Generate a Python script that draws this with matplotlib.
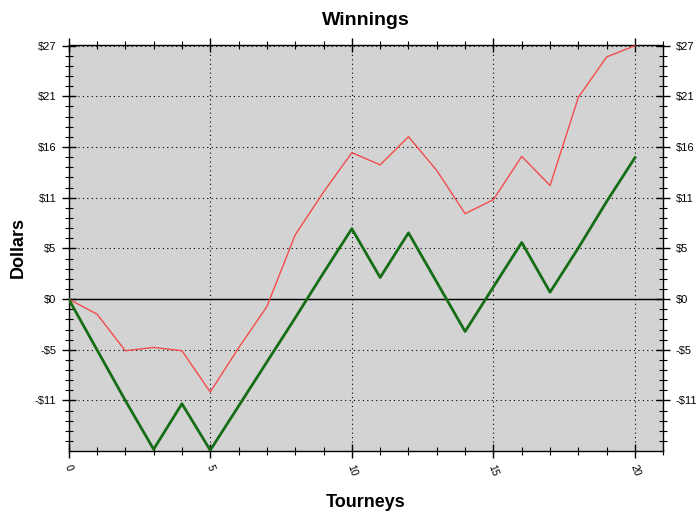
import numpy as np
import matplotlib
matplotlib.use('Agg')
import matplotlib.pyplot as plt
from matplotlib.ticker import MultipleLocator, FixedLocator

plt.rcParams['font.family'] = ['Liberation Sans', 'DejaVu Sans']

# Data
tourneys = list(range(21))
cumulative = [0, -1.6, -5.5, -5.15, -5.5, -9.9, -5.2, -0.8, 6.85, 11.4, 15.6,
              14.3, 17.3, 13.7, 9.1, 10.6, 15.2, 12.1, 21.5, 25.8, 27.0]
winnings = [0, -5.4, -10.8, -16.0, -11.15, -16.1, -11.4, -6.7, -2.0, 2.8, 7.5,
            2.3, 7.06, 1.8, -3.45, 1.3, 6.03, 0.74, 5.45, 10.4, 15.08]

y_ticks = [-10.8, -5.4, 0, 5.4, 10.8, 16.2, 21.6, 27.0]
y_labels = ['-$11', '-$5', '$0', '$5', '$11', '$16', '$21', '$27']
x_ticks = [0, 5, 10, 15, 20]

fig = plt.figure(figsize=(7, 5.11), dpi=100)
ax = fig.add_axes([0.0981, 0.118, 0.8495, 0.7945])
ax.set_facecolor('#d3d3d3')

ax.axhline(0, color='black', linewidth=1.0, zorder=2)
ax.plot(tourneys, cumulative, color='#f24c4c', linewidth=1.0, zorder=3)
ax.plot(tourneys, winnings, color='#156e15', linewidth=2.0, zorder=4)

ax.set_xlim(0, 21)
ax.set_ylim(-16.15, 27.1)

ax.yaxis.set_major_locator(FixedLocator(y_ticks))
ax.set_yticklabels(y_labels)
ax.yaxis.set_minor_locator(MultipleLocator(1.08))
ax.xaxis.set_major_locator(FixedLocator(x_ticks))
ax.xaxis.set_minor_locator(MultipleLocator(1))

ax.grid(True, which='major', color='black', linestyle=(0, (1, 3)), linewidth=0.8)
ax.set_axisbelow(False)

ax.tick_params(axis='both', which='both', direction='inout', top=True, right=True,
               labelright=True, labelsize=8, colors='black')
ax.tick_params(axis='both', which='major', length=10, width=1.0, pad=4)
ax.tick_params(axis='both', which='minor', length=6, width=0.8)
for lab in ax.get_xticklabels():
    lab.set_rotation(-70)
    lab.set_fontsize(7.5)

for sp in ax.spines.values():
    sp.set_color('black')
    sp.set_linewidth(1.0)

ax.set_title('Winnings', fontsize=14, fontweight='bold', pad=14)
ax.set_xlabel('Tourneys', fontsize=13, fontweight='bold', labelpad=12)
ax.set_ylabel('Dollars', fontsize=13, fontweight='bold', labelpad=6)

plt.savefig('out.png', dpi=100)
